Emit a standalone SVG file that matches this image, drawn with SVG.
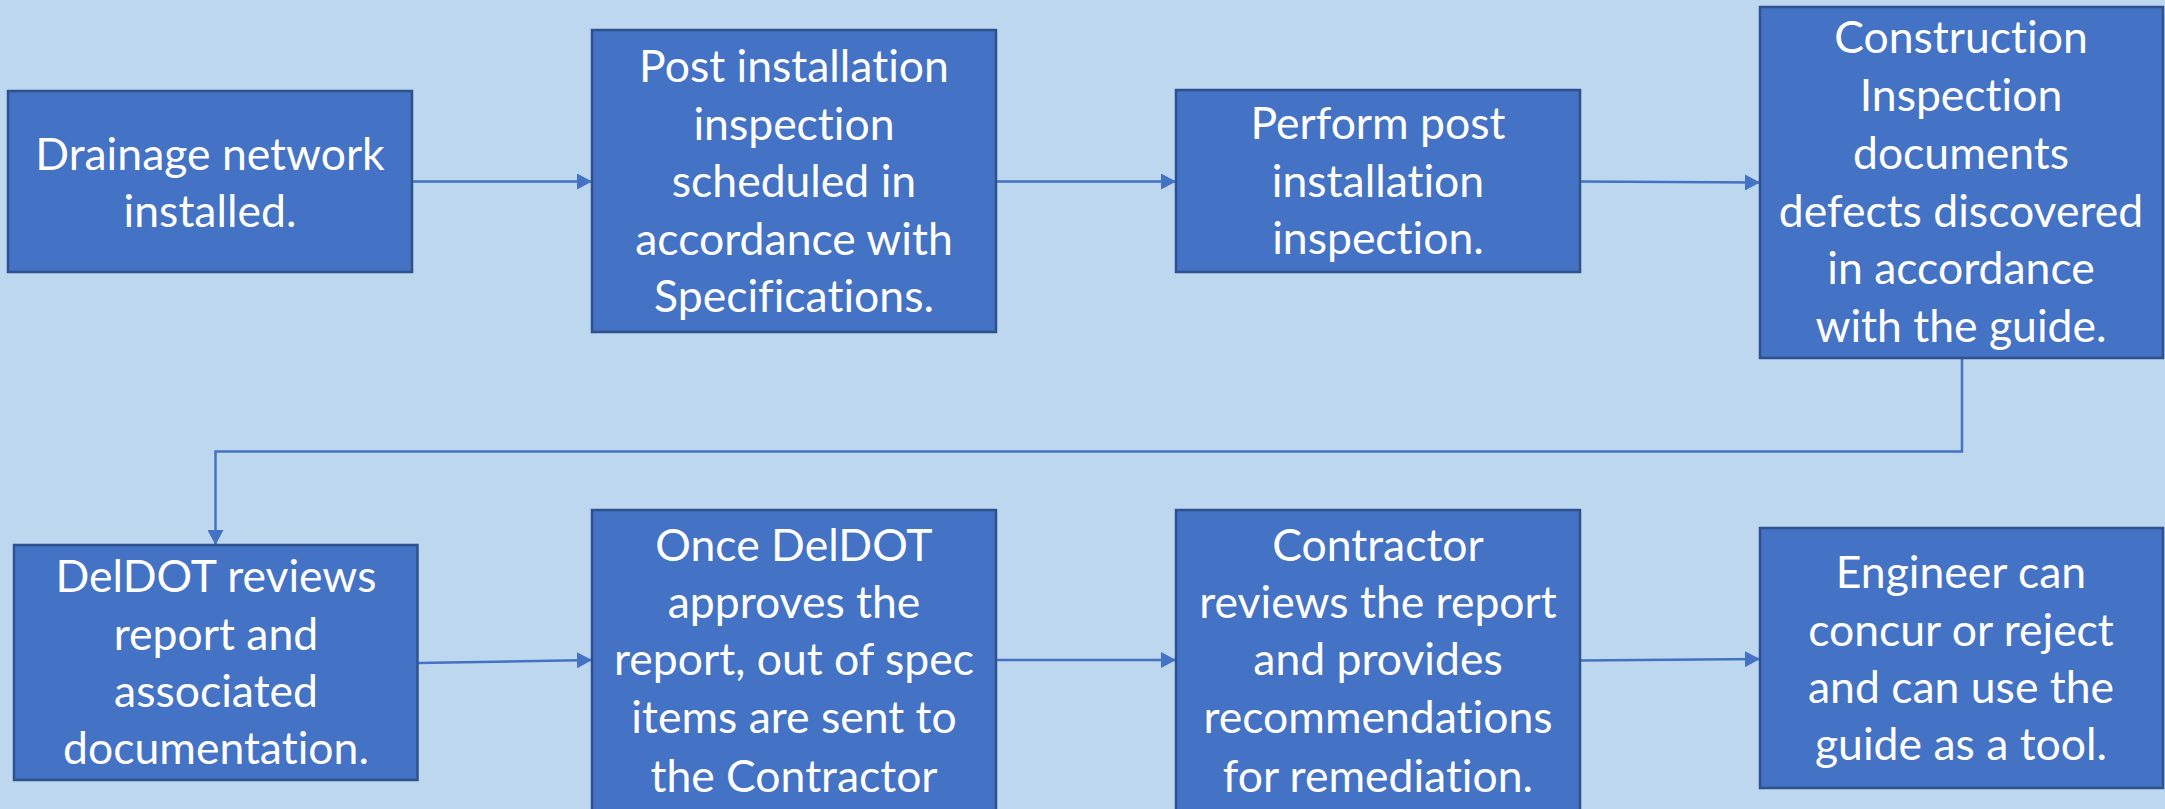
<svg xmlns="http://www.w3.org/2000/svg" width="2165" height="809" viewBox="0 0 2165 809">
<style>
.box{fill:#4472C4;stroke:#2F528F;stroke-width:2.5}
.t{fill:#FFFFFF;font-family:Lato,"Open Sans","Liberation Sans",sans-serif;font-size:44.5px;text-anchor:middle;font-variant-ligatures:none;font-feature-settings:"liga" 0,"clig" 0}
.c{fill:none;stroke:#4472C4;stroke-width:2.5}
</style>
<defs>
<marker id="ah" markerUnits="userSpaceOnUse" markerWidth="15" markerHeight="16" refX="15" refY="8" orient="auto">
<path d="M0,0 L15,8 L0,16 z" fill="#4472C4"/>
</marker>
</defs>
<rect x="0" y="0" width="2165" height="809" fill="#BDD7EE"/>
<g id="connectors">
<path class="c" d="M412,181.5 L592,181.5" marker-end="url(#ah)"/>
<path class="c" d="M996,181.5 L1176,181.5" marker-end="url(#ah)"/>
<path class="c" d="M1580,181.5 L1760,182.5" marker-end="url(#ah)"/>
<path class="c" d="M1962,358 L1962,451.5 L215.5,451.5 L215.5,545" marker-end="url(#ah)"/>
<path class="c" d="M417.5,663 L592,660" marker-end="url(#ah)"/>
<path class="c" d="M996,660 L1176,660" marker-end="url(#ah)"/>
<path class="c" d="M1580,660.5 L1760,659" marker-end="url(#ah)"/>
</g>
<g id="n1">
<rect class="box" x="8" y="91" width="404" height="181"/>
<text class="t"><tspan x="210" y="170">Drainage network</tspan><tspan x="210" y="227">installed.</tspan></text>
</g>
<g id="n2">
<rect class="box" x="592" y="30" width="404" height="302"/>
<text class="t"><tspan x="794" y="82">Post installation</tspan><tspan x="794" y="140">inspection</tspan><tspan x="794" y="197">scheduled in</tspan><tspan x="794" y="255">accordance with</tspan><tspan x="794" y="312">Specifications.</tspan></text>
</g>
<g id="n3">
<rect class="box" x="1176" y="90" width="404" height="182"/>
<text class="t"><tspan x="1378" y="139">Perform post</tspan><tspan x="1378" y="197">installation</tspan><tspan x="1378" y="254">inspection.</tspan></text>
</g>
<g id="n4">
<rect class="box" x="1760" y="7" width="403" height="351"/>
<text class="t"><tspan x="1961" y="53">Construction</tspan><tspan x="1961" y="111">Inspection</tspan><tspan x="1961" y="169">documents</tspan><tspan x="1961" y="227">defects discovered</tspan><tspan x="1961" y="284">in accordance</tspan><tspan x="1961" y="342">with the guide.</tspan></text>
</g>
<g id="n5">
<rect class="box" x="14" y="545" width="403.5" height="235"/>
<text class="t"><tspan x="216" y="592">DelDOT reviews</tspan><tspan x="216" y="650">report and</tspan><tspan x="216" y="707">associated</tspan><tspan x="216" y="764">documentation.</tspan></text>
</g>
<g id="n6">
<rect class="box" x="592" y="510" width="404" height="330"/>
<text class="t"><tspan x="794" y="561">Once DelDOT</tspan><tspan x="794" y="618">approves the</tspan><tspan x="794" y="675">report, out of spec</tspan><tspan x="794" y="733">items are sent to</tspan><tspan x="794" y="792">the Contractor</tspan></text>
</g>
<g id="n7">
<rect class="box" x="1176" y="510" width="404" height="330"/>
<text class="t"><tspan x="1378" y="561">Contractor</tspan><tspan x="1378" y="618">reviews the report</tspan><tspan x="1378" y="675">and provides</tspan><tspan x="1378" y="733">recommendations</tspan><tspan x="1378" y="792">for remediation.</tspan></text>
</g>
<g id="n8">
<rect class="box" x="1760" y="528" width="403" height="260"/>
<text class="t"><tspan x="1961" y="588">Engineer can</tspan><tspan x="1961" y="646">concur or reject</tspan><tspan x="1961" y="703">and can use the</tspan><tspan x="1961" y="760">guide as a tool.</tspan></text>
</g>
</svg>
